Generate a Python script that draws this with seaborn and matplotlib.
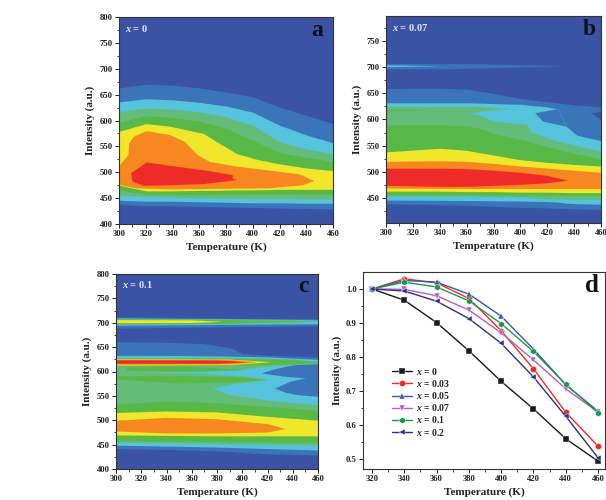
import numpy as np
import pandas as pd
import matplotlib
matplotlib.use("Agg")
import matplotlib.pyplot as plt
import seaborn as sns

# colours of the contour levels, lowest first
c_bg = "#3a53a4"
c_blue = "#3b75b9"
c_cyan = "#55c3dc"
c_lgreen = "#63bd79"
c_green = "#59b947"
c_yellow = "#f0e62a"
c_orange = "#f6881f"
c_red = "#ee2b27"

temps = [300, 320, 340, 360, 380, 400, 420, 440, 460]

# panel a, x = 0
a_blue_up = [663, 670, 668, 663, 655, 646, 626, 610, 594]
a_blue_lo = [438, 435, 435, 434, 433, 432, 431, 430, 429]
a_cyan_up = [636, 642, 640, 635, 628, 616, 591, 572, 557]
a_cyan_lo = [446, 444, 444, 443, 442, 441, 441, 440, 440]
a_lgreen_up = [617, 624, 622, 617, 607, 591, 559, 545, 536]
a_lgreen_lo = [456, 453, 452, 451, 450, 449, 449, 448, 448]
a_green_up = [597, 609, 606, 599, 585, 562, 538, 529, 521]
a_green_lo = [466, 457, 457, 457, 457, 458, 458, 458, 458]
a_yellow_t = [300, 320, 338, 363, 373, 388, 403, 418, 438, 460]
a_yellow_up = [579, 594, 589, 575, 559, 536, 525, 517, 509, 503]
a_yellow_lo = [475, 464, 464, 465, 465, 466, 466, 467, 467, 467]
a_orange_t = [300, 307, 307.7, 311, 320.6, 338, 349, 359, 368, 388, 435, 441, 446, 437.5, 413, 338, 313, 300]
a_orange_v = [511, 533, 556, 568.5, 579.5, 572, 559, 533, 520, 511, 496, 489, 483, 475, 469, 467, 469, 476]
a_red_t = [309, 320.6, 338, 363, 385, 385, 388.5, 363, 338, 318, 310]
a_red_v = [498, 519, 512.5, 504, 494.5, 487, 485, 477, 475, 474, 482]

# panel b, x = 0.07
b_blue_up = [659, 660, 660, 658, 650, 640, 634, 628, 624]
b_blue_lo = [439, 438, 437, 436, 434, 432, 431, 429, 428]
b_strip_t = [300, 342, 380, 433]
b_strip_up = [707, 707, 706, 703]
b_strip_lo = [697, 697, 699, 703]
b_strip2_t = [300, 342]
b_strip2_up = [704.5, 703]
b_strip2_lo = [701, 703]
b_cyan_t = [300, 360, 400, 420, 428, 434.5, 442, 460]
b_cyan_up = [632, 632, 629, 624, 620, 586, 570, 559.5]
b_cyan_lo = [446, 445, 444, 443, 442, 440, 439, 438]
b_pocket_t = [411, 428, 434.5, 417]
b_pocket_v = [612, 620, 586, 596]
b_hole_t = [453, 460, 460]
b_hole_v = [612, 615, 599]
b_lgreen_t = [300, 370, 393.5, 405, 407, 424, 460]
b_lgreen_up = [625, 625, 620, 589, 577, 561, 539]
b_lgreen_lo = [454, 453, 452, 451, 450, 448, 447]
b_notch_t = [361, 370, 393.5, 405, 380, 370]
b_notch_v = [610, 615, 620, 590, 596, 608]
b_wedge_t = [300, 334]
b_wedge_up = [620, 619]
b_wedge_lo = [617, 619]
b_green_t = [300, 340, 360, 372, 380, 400, 420, 440, 460]
b_green_up = [590, 590, 588, 582, 573, 562, 548, 535, 525]
b_green_lo = [456, 456, 456, 456, 455, 455, 455, 455, 455]
b_yellow_up = [538, 545, 541, 532, 523, 518, 514, 511]
b_yellow_t = [300, 340, 360, 380, 400, 420, 440, 460]
b_yellow_lo = [463, 463, 462, 462, 461, 461, 460, 460]
b_orange_up = [520, 521, 520, 516, 511, 507, 503, 499]
b_orange_lo = [469, 468, 468, 468, 468, 468, 468, 468]
b_red_t = [300, 340, 360, 380, 400, 420, 435]
b_red_up = [507, 507, 506, 503, 499, 493, 484]
b_red_lo = [474, 472, 472, 474, 476, 479, 484]

# panel c, x = 0.1
c_blue_t = [300, 340, 370, 390, 400, 420, 460]
c_blue_up = [661, 660, 657, 649, 637, 633, 630]
c_blue_lo = [442, 440, 438, 436, 434, 431, 429]
c_top_t = [300, 460]
c_top_blue_up = [712, 708]
c_top_blue_lo = [689, 694]
c_top_cyan_up = [710, 706]
c_top_cyan_lo = [695, 698]
c_top_lgreen_t = [300, 440, 460]
c_top_lgreen_up = [708.5, 707, 703]
c_top_lgreen_lo = [697, 700, 703]
c_top_green_t = [300, 380, 440]
c_top_green_up = [707.5, 707, 703]
c_top_green_lo = [698, 699, 703]
c_top_yellow_t = [300, 360, 385]
c_top_yellow_up = [706.5, 706, 703]
c_top_yellow_lo = [700, 700.5, 703]
c_cyan_t = [300, 340, 380, 420, 460]
c_cyan_up = [633, 633, 632, 630, 625]
c_cyan_lo = [449, 447, 445, 442, 439]
c_lgreen_up = [629, 629, 629, 628, 620]
c_lgreen_lo = [455, 454, 452, 451, 449]
c_tongue_t = [377, 400, 420, 400, 370, 340, 320, 370, 395, 410, 425, 460, 460, 427, 390]
c_tongue_v = [566, 577, 584, 590, 595, 597, 598, 600, 602, 607, 611, 616, 531, 538, 552]
c_pocket_t = [415.4, 425, 435, 442, 460, 460, 443, 435, 426, 438, 450.5, 435]
c_pocket_v = [596, 604, 610, 613, 615, 548, 552, 556, 565, 579, 586, 589]
c_patch_t = [308, 350, 404]
c_patch_up = [610, 612, 604]
c_patch_lo = [603, 600, 604]
c_strip_t = [300, 350, 400, 420]
c_strip_up = [591, 592, 589, 583]
c_strip_lo = [585, 576, 579, 583]
c_edge_t = [300, 303, 300]
c_edge_v = [568, 566, 563]
c_band_t = [300, 340, 380, 420, 460]
c_green_up = [533, 540, 536, 528, 521]
c_green_lo = [458, 457, 456, 455, 454]
c_yellow_up = [516, 519, 517, 508, 500]
c_yellow_lo = [470, 469, 468, 468, 468]
c_orange_t = [300, 340, 380, 420, 434]
c_orange_up = [500, 506, 503, 493, 483]
c_orange_lo = [478, 474, 474, 476, 483]
c_line_t = [300, 380, 440, 460]
c_line_green_up = [627, 627, 625, 621]
c_line_green_lo = [612, 613, 615, 619]
c_line_yellow_t = [300, 390, 423]
c_line_yellow_up = [626, 625.5, 620]
c_line_yellow_lo = [613, 614, 620]
c_line_orange_t = [300, 390, 412]
c_line_orange_up = [625, 624.5, 620]
c_line_orange_lo = [615, 615.5, 620]
c_line_red_t = [300, 380, 405]
c_line_red_up = [624, 623.5, 620]
c_line_red_lo = [617, 617, 620]

# panel d
d_temps = [320, 340, 360, 380, 400, 420, 440, 460]
d_x0 = [1.0, 0.967, 0.901, 0.818, 0.728, 0.647, 0.559, 0.493]
d_x003 = [1.0, 1.03, 1.018, 0.972, 0.877, 0.765, 0.637, 0.537]
d_x005 = [1.0, 1.025, 1.02, 0.985, 0.92, 0.823, 0.718, 0.64]
d_x007 = [1.0, 0.999, 0.98, 0.938, 0.871, 0.791, 0.706, 0.637]
d_x01 = [1.0, 1.02, 1.006, 0.965, 0.898, 0.816, 0.719, 0.636]
d_x02 = [1.0, 0.994, 0.964, 0.913, 0.84, 0.741, 0.625, 0.503]
d_names = ["0", "0.03", "0.05", "0.07", "0.1", "0.2"]
d_colors = ["#1a1a1a", "#ee2b27", "#3f55a8", "#b95fc0", "#1a9a50", "#2c2f92"]
d_marks = ["s", "o", "^", "v", "h", "<"]

sns.set_theme(style="ticks")
plt.rcParams["font.family"] = ["Liberation Serif", "DejaVu Serif"]
plt.rcParams["font.weight"] = "bold"
plt.rcParams["mathtext.fontset"] = "custom"
plt.rcParams["mathtext.it"] = "Liberation Serif:italic:bold"
plt.rcParams["mathtext.rm"] = "Liberation Serif:bold"

W, H = 606, 500
fig = plt.figure(figsize=(W / 100, H / 100), dpi=100)


def make_axes(left, top, right, bottom):
    return fig.add_axes([left / W, 1 - bottom / H, (right - left) / W, (bottom - top) / H])


def band(ax, t, up, lo, color):
    ax.fill_between(t, up, lo, color=color, lw=0)


def poly(ax, t, v, color):
    ax.fill(t, v, color=color, lw=0)


def style_map(ax, ylim, yticks, xtext, letter, lx, label="Intensity (a.u.)"):
    ax.set_facecolor(c_bg)
    ax.set_xlim(300, 460)
    ax.set_ylim(*ylim)
    ax.set_xticks(range(300, 461, 20))
    ax.set_xticks(range(310, 460, 20), minor=True)
    ax.set_yticks(yticks)
    ax.set_yticks([v + 25 for v in range(400, 800, 50)], minor=True)
    ax.set_ylim(*ylim)
    finish(ax, label)
    ax.text(0.03, 0.945, xtext, transform=ax.transAxes, color="#dfe6f5", fontsize=7.5, va="center")
    ax.text(lx, 0.935, letter, transform=ax.transAxes, color="#111111", fontsize=17, ha="center", va="center")


def finish(ax, label):
    ax.tick_params(axis="both", which="major", length=3, width=0.7, labelsize=6.2, pad=1.5, color="#222222", labelcolor="#222222")
    ax.tick_params(axis="both", which="minor", length=1.8, width=0.6, color="#222222")
    ax.set_xlabel("Temperature (K)", fontsize=8, fontweight="bold", color="#222222", labelpad=3)
    ax.set_ylabel(label, fontsize=8, fontweight="bold", color="#222222", labelpad=3)
    for s in ax.spines.values():
        s.set_linewidth(0.8)
        s.set_color("#333333")


# a
ax = make_axes(119, 17, 333, 224)
band(ax, temps, a_blue_up, a_blue_lo, c_blue)
band(ax, temps, a_cyan_up, a_cyan_lo, c_cyan)
band(ax, temps, a_lgreen_up, a_lgreen_lo, c_lgreen)
band(ax, temps, a_green_up, a_green_lo, c_green)
band(ax, a_yellow_t, a_yellow_up, a_yellow_lo, c_yellow)
poly(ax, a_orange_t, a_orange_v, c_orange)
poly(ax, a_red_t, a_red_v, c_red)
style_map(ax, (400, 800), range(400, 801, 50), "$x$ = 0", "a", 0.925)

# b
ax = make_axes(386, 16, 601, 223)
band(ax, temps, b_blue_up, b_blue_lo, c_blue)
band(ax, b_strip_t, b_strip_up, b_strip_lo, c_blue)
band(ax, b_strip2_t, b_strip2_up, b_strip2_lo, c_cyan)
band(ax, b_cyan_t, b_cyan_up, b_cyan_lo, c_cyan)
poly(ax, b_pocket_t, b_pocket_v, c_blue)
poly(ax, b_hole_t, b_hole_v, c_bg)
band(ax, b_lgreen_t, b_lgreen_up, b_lgreen_lo, c_lgreen)
poly(ax, b_notch_t, b_notch_v, c_cyan)
band(ax, b_wedge_t, b_wedge_up, b_wedge_lo, c_green)
band(ax, b_green_t, b_green_up, b_green_lo, c_green)
band(ax, b_yellow_t, b_yellow_up, b_yellow_lo, c_yellow)
band(ax, b_yellow_t, b_orange_up, b_orange_lo, c_orange)
band(ax, b_red_t, b_red_up, b_red_lo, c_red)
style_map(ax, (402, 798), range(450, 751, 50), "$x$ = 0.07", "b", 0.945)

# c
ax = make_axes(116, 274, 318, 469)
band(ax, c_blue_t, c_blue_up, c_blue_lo, c_blue)
band(ax, c_top_t, c_top_blue_up, c_top_blue_lo, c_blue)
band(ax, c_top_t, c_top_cyan_up, c_top_cyan_lo, c_cyan)
band(ax, c_top_lgreen_t, c_top_lgreen_up, c_top_lgreen_lo, c_lgreen)
band(ax, c_top_green_t, c_top_green_up, c_top_green_lo, c_green)
band(ax, c_top_yellow_t, c_top_yellow_up, c_top_yellow_lo, c_yellow)
band(ax, c_cyan_t, c_cyan_up, c_cyan_lo, c_cyan)
band(ax, c_cyan_t, c_lgreen_up, c_lgreen_lo, c_lgreen)
poly(ax, c_tongue_t, c_tongue_v, c_cyan)
poly(ax, c_pocket_t, c_pocket_v, c_blue)
poly(ax, c_edge_t, c_edge_v, c_cyan)
band(ax, c_patch_t, c_patch_up, c_patch_lo, c_green)
band(ax, c_strip_t, c_strip_up, c_strip_lo, c_green)
band(ax, c_band_t, c_green_up, c_green_lo, c_green)
band(ax, c_band_t, c_yellow_up, c_yellow_lo, c_yellow)
band(ax, c_orange_t, c_orange_up, c_orange_lo, c_orange)
band(ax, c_line_t, c_line_green_up, c_line_green_lo, c_green)
band(ax, c_line_yellow_t, c_line_yellow_up, c_line_yellow_lo, c_yellow)
band(ax, c_line_orange_t, c_line_orange_up, c_line_orange_lo, c_orange)
band(ax, c_line_red_t, c_line_red_up, c_line_red_lo, c_red)
style_map(ax, (400, 800), range(400, 801, 50), "$x$ = 0.1", "c", 0.93)

# d
ax = make_axes(363, 272, 605, 469)
d_series = [d_x0, d_x003, d_x005, d_x007, d_x01, d_x02]
df = pd.DataFrame(
    [{"T": t, "I": v, "x": f"$x$ = {n}"} for n, s in zip(d_names, d_series) for t, v in zip(d_temps, s)]
)
labels = [f"$x$ = {n}" for n in d_names]
sns.lineplot(
    data=df, x="T", y="I", hue="x", style="x", ax=ax, hue_order=labels, style_order=labels,
    palette=d_colors, markers=d_marks, dashes=False, lw=1.0, markersize=4.5, markeredgewidth=0.3,
)
ax.set_xlim(314.4, 464.3)
ax.set_ylim(0.47, 1.05)
ax.set_xticks(range(320, 461, 20))
ax.set_xticks(range(330, 460, 20), minor=True)
ax.set_yticks([0.5, 0.6, 0.7, 0.8, 0.9, 1.0])
ax.set_yticks([0.55, 0.65, 0.75, 0.85, 0.95], minor=True)
ax.yaxis.set_major_formatter("{x:.1f}")
finish(ax, "Intensity (a.u.)")
ax.legend(loc="lower left", bbox_to_anchor=(0.10, 0.135), frameon=False, fontsize=7,
          labelspacing=0.12, handlelength=2.1, handletextpad=0.4, borderpad=0, title=None)
ax.text(0.945, 0.93, "d", transform=ax.transAxes, color="#111111", fontsize=18, ha="center", va="center")

fig.savefig("out.png", dpi=100, facecolor="white")
